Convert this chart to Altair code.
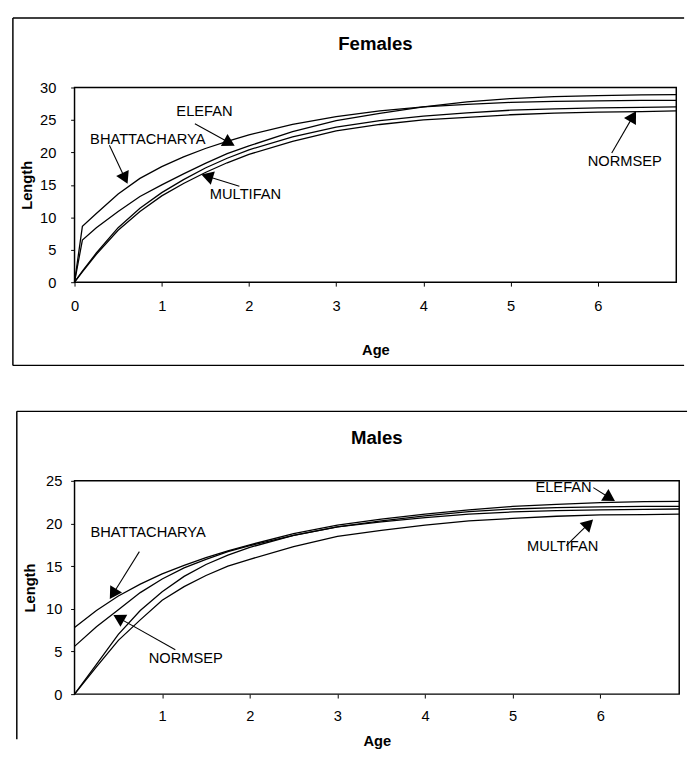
import math
import altair as alt
import pandas as pd

FONT = "Liberation Sans"
X_MAX = 6.9

# ---------------- Females ----------------
f_age = [0, 0.09, 0.25, 0.5, 0.75, 1.0, 1.25, 1.5, 1.75, 2.0, 2.5, 3.0, 3.5, 4.0, 4.5, 5.0, 5.5, 6.0, 6.5, 6.9]
f_bhattacharya = [0, 8.6, 10.6, 13.6, 16.0, 17.8, 19.3, 20.6, 21.7, 22.7, 24.3, 25.5, 26.4, 27.0, 27.4, 27.7, 27.85, 27.95, 28.0, 28.0]
f_elefan = [0, 6.5, 8.4, 10.9, 13.2, 15.0, 16.7, 18.3, 19.8, 21.0, 23.2, 24.9, 26.0, 27.0, 27.8, 28.3, 28.6, 28.75, 28.85, 28.9]
f_multifan = [0, 1.7, 4.5, 8.4, 11.4, 13.8, 15.8, 17.6, 19.1, 20.4, 22.4, 23.9, 24.9, 25.6, 26.1, 26.5, 26.7, 26.85, 26.95, 27.0]
f_normsep = [0, 1.6, 4.3, 8.0, 10.9, 13.3, 15.2, 16.9, 18.4, 19.7, 21.7, 23.3, 24.3, 25.0, 25.4, 25.8, 26.05, 26.2, 26.3, 26.4]

f_labels = ["ELEFAN", "BHATTACHARYA", "MULTIFAN", "NORMSEP"]
f_label_age = [1.49, 0.84, 1.96, 6.31]
f_label_len = [26.4, 22.0, 13.6, 18.6]
f_tail_age = [1.38, 0.40, 1.89, 6.16]
f_tail_len = [24.4, 21.1, 14.8, 19.9]
f_tip_age = [1.84, 0.61, 1.45, 6.44]
f_tip_len = [21.0, 15.1, 16.6, 26.4]

# ---------------- Males ----------------
m_age = [0, 0.25, 0.5, 0.75, 1.0, 1.25, 1.5, 1.75, 2.0, 2.5, 3.0, 3.5, 4.0, 4.5, 5.0, 5.5, 6.0, 6.5, 6.9]
m_bhattacharya = [7.8, 9.8, 11.5, 12.9, 14.1, 15.1, 16.0, 16.8, 17.5, 18.8, 19.8, 20.5, 21.1, 21.6, 22.0, 22.25, 22.45, 22.55, 22.6]
m_normsep = [5.6, 7.9, 9.9, 11.9, 13.5, 14.8, 15.8, 16.7, 17.4, 18.6, 19.6, 20.3, 20.9, 21.4, 21.7, 21.85, 21.95, 22.0, 22.0]
m_elefan = [0, 3.5, 7.0, 9.8, 12.0, 13.8, 15.2, 16.3, 17.2, 18.6, 19.6, 20.2, 20.7, 21.1, 21.35, 21.5, 21.6, 21.65, 21.7]
m_multifan = [0, 3.2, 6.3, 8.7, 11.0, 12.6, 13.9, 15.0, 15.8, 17.3, 18.5, 19.2, 19.8, 20.3, 20.6, 20.85, 21.0, 21.05, 21.1]

m_labels = ["BHATTACHARYA", "NORMSEP", "ELEFAN", "MULTIFAN"]
m_label_age = [0.84, 1.27, 5.58, 5.57]
m_label_len = [19.0, 4.2, 24.3, 17.3]
m_tail_age = [0.74, 1.15, 5.92, 5.61]
m_tail_len = [16.7, 5.2, 24.2, 17.4]
m_tip_age = [0.40, 0.44, 6.17, 5.92]
m_tip_len = [11.1, 9.3, 22.6, 20.5]


def curves_df(ages, series):
    rows = []
    for name, vals in series.items():
        for a, v in zip(ages, vals):
            rows.append({"age": a, "length": v, "curve": name})
    return pd.DataFrame(rows)


def arrows_df(tx, ty, hx, hy, w, h, ymax, back=6.5):
    rows = []
    for x0, y0, x1, y1 in zip(tx, ty, hx, hy):
        dxp = (x1 - x0) * w / X_MAX
        dyp = -(y1 - y0) * h / ymax
        n = math.hypot(dxp, dyp)
        ux, uy = dxp / n, dyp / n
        ang = math.degrees(math.atan2(ux, -uy)) % 360
        cx = x1 - ux * back * X_MAX / w
        cy = y1 + uy * back * ymax / h
        rows.append({"age": x0, "length": y0, "age2": cx, "length2": cy,
                     "hx": cx, "hy": cy, "angle": ang})
    return pd.DataFrame(rows)


def panel(title, curves, labels, arrows, w, h, ymax, x_ticks,
          box, y_lab_pad, y_title_pad, x_lab_pad, x_title_pad, draw_bottom):
    y_ticks = list(range(0, ymax + 1, 5))
    xs = alt.Scale(domain=[0, X_MAX], nice=False, zero=False)
    ys = alt.Scale(domain=[0, ymax], nice=False)
    xaxis = alt.Axis(values=x_ticks, title="Age", format="d", labelFlush=False,
                     labelOverlap=False, labelPadding=x_lab_pad, titlePadding=x_title_pad)
    yaxis = alt.Axis(values=y_ticks, title="Length", format="d", labelOverlap=False,
                     labelPadding=y_lab_pad, titlePadding=y_title_pad)

    lines = alt.Chart(curves).mark_line(color="black", strokeWidth=1.3).encode(
        x=alt.X("age:Q", scale=xs, axis=xaxis),
        y=alt.Y("length:Q", scale=ys, axis=yaxis),
        detail="curve:N",
    )
    rules = alt.Chart(arrows).mark_rule(color="black", strokeWidth=1.1).encode(
        x=alt.X("age:Q", axis=xaxis), y=alt.Y("length:Q", axis=yaxis),
        x2="age2:Q", y2="length2:Q"
    )
    heads = alt.Chart(arrows).mark_point(
        shape="triangle-up", filled=True, color="black", opacity=1, size=200
    ).encode(
        x=alt.X("hx:Q", axis=xaxis), y=alt.Y("hy:Q", axis=yaxis),
        angle=alt.Angle("angle:Q", scale=None)
    )
    texts = alt.Chart(labels).mark_text(
        font=FONT, fontSize=15, color="black", align="center", baseline="middle"
    ).encode(x=alt.X("age:Q", axis=xaxis), y=alt.Y("length:Q", axis=yaxis), text="label:N")

    one = pd.DataFrame({"k": [0]})
    bl, bt, br, bb = box
    frame = [
        alt.Chart(one).mark_rule(color="black", strokeWidth=1.5).encode(
            x=alt.value(bl), x2=alt.value(br), y=alt.value(bt), y2=alt.value(bt)),
        alt.Chart(one).mark_rule(color="black", strokeWidth=1.5).encode(
            x=alt.value(bl), x2=alt.value(bl), y=alt.value(bt), y2=alt.value(bb)),
    ]
    if draw_bottom:
        frame.append(alt.Chart(one).mark_rule(color="black", strokeWidth=1.5).encode(
            x=alt.value(bl), x2=alt.value(br), y=alt.value(bb), y2=alt.value(bb)))
    ttl = alt.Chart(one).mark_text(
        font=FONT, fontSize=19, fontWeight="bold", color="black", align="center", baseline="middle"
    ).encode(x=alt.value(w / 2), y=alt.value(-44), text=alt.value(title))

    return alt.layer(lines, rules, heads, texts, ttl, *frame).properties(width=w, height=h)


W_F, H_F = 615, 199
W_M, H_M = 618, 218

top = panel(
    "Females",
    curves_df(f_age, {"BHATTACHARYA": f_bhattacharya, "ELEFAN": f_elefan,
                      "MULTIFAN": f_multifan, "NORMSEP": f_normsep}),
    pd.DataFrame({"label": f_labels, "age": f_label_age, "length": f_label_len}),
    arrows_df(f_tail_age, f_tail_len, f_tip_age, f_tip_len, W_F, H_F, 30),
    W_F, H_F, 30, [0, 1, 2, 3, 4, 5, 6],
    box=(-63, -71, W_F + 8, H_F + 85),
    y_lab_pad=15, y_title_pad=5, x_lab_pad=13, x_title_pad=30, draw_bottom=True,
)

bottom = panel(
    "Males",
    curves_df(m_age, {"BHATTACHARYA": m_bhattacharya, "NORMSEP": m_normsep,
                      "ELEFAN": m_elefan, "MULTIFAN": m_multifan}),
    pd.DataFrame({"label": m_labels, "age": m_label_age, "length": m_label_len}),
    arrows_df(m_tail_age, m_tail_len, m_tip_age, m_tip_len, W_M, H_M, 25),
    W_M, H_M, 25, [1, 2, 3, 4, 5, 6],
    box=(-59, -71, W_M + 8, H_M + 46),
    y_lab_pad=9, y_title_pad=8, x_lab_pad=11, x_title_pad=10, draw_bottom=False,
)

chart = alt.vconcat(top, bottom, spacing=43).properties(
    padding={"left": 3, "top": 0, "right": 0, "bottom": 0}
).configure_view(
    stroke="black", strokeWidth=1.5
).configure_axis(
    grid=False, domain=False, ticks=True, tickSize=4, tickColor="black", tickWidth=1,
    labelFont=FONT, labelFontSize=15, labelColor="black",
    titleFont=FONT, titleFontSize=15, titleFontWeight="bold", titleColor="black",
    labelOverlap=False,
)

chart.save("out.html", embed_options={"renderer": "svg", "actions": False})
